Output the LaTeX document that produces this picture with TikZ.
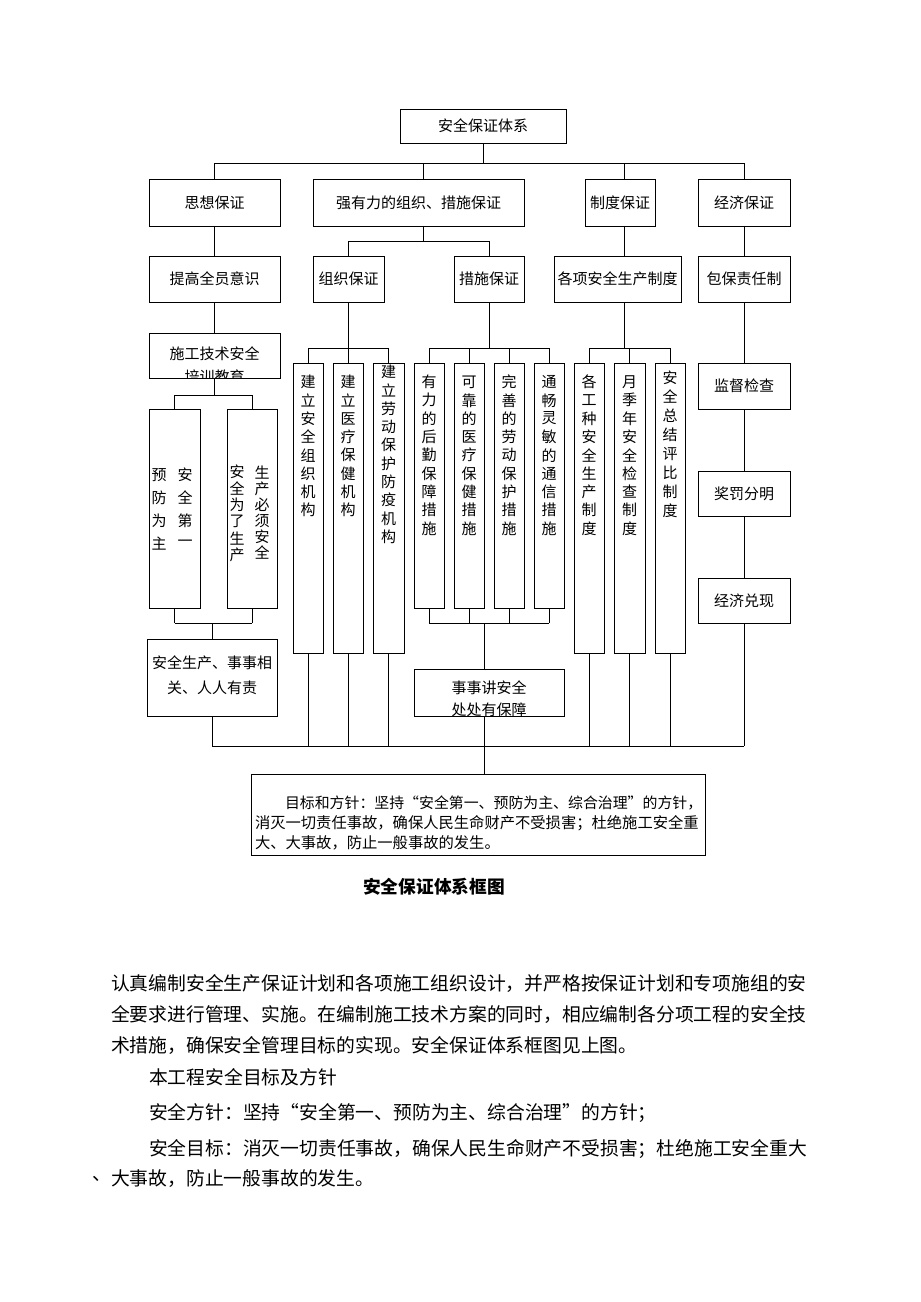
\documentclass[tikz,border=0pt]{standalone}
\usepackage{fontspec}
\setmainfont{Noto Sans CJK SC}
\usetikzlibrary{fit}
\newcommand\chartfont{\fontsize{15bp}{18bp}\selectfont}
\newcommand\goalfont{\fontsize{15.3bp}{18bp}\selectfont}
\newcommand\bodyfont{\fontsize{18.8bp}{22bp}\selectfont}
\newcommand\capfont{\fontsize{17.7bp}{20bp}\selectfont\bfseries}
\newcommand\rbox[6]{\node[box, fit={(#2,#3) (#4,#5)}] (#1) {};
  \node[ct] (#1t) at (#1.center) {#6};}
\newcommand\vcol[5]{\foreach[count=\i] \c in {#5} {\node[ct] (#1-\i) at (#2,{#3+(\i-1)*#4}) {\c};}}
\begin{document}
\begin{tikzpicture}[x=1bp,y=-1bp,
  every node/.style={inner sep=0pt, outer sep=0pt},
  box/.style={draw, line width=0.8bp},
  ln/.style={line width=0.8bp},
  ct/.style={font=\chartfont},
  bt/.style={font=\bodyfont, anchor=west},
  gt/.style={font=\goalfont, anchor=west}]
\fill[white] (0,0) rectangle (920,1302);
\useasboundingbox (0,0) rectangle (920,1302);

% ---------- boxes ----------
\rbox{top}{400}{109}{566}{143}{安全保证体系}
\rbox{sx}{149}{179}{280}{226}{思想保证}
\rbox{qy}{313}{179}{524}{226}{强有力的组织、措施保证}
\rbox{zd}{585}{179}{655}{226}{制度保证}
\rbox{jj}{698}{179}{790}{226}{经济保证}
\rbox{tg}{149}{256}{280}{302}{提高全员意识}
\rbox{zz}{313}{256}{384}{302}{组织保证}
\rbox{cs}{454}{256}{524}{302}{措施保证}
\rbox{gx}{554}{256}{681}{302}{各项安全生产制度}
\rbox{bb}{698}{256}{790}{302}{包保责任制}
\rbox{sg}{149}{333}{280}{378}{}
\rbox{yf}{149}{409}{200}{608}{}
\rbox{sc}{227}{409}{277}{608}{}
\rbox{c1}{293}{363}{323}{653}{}
\rbox{c2}{333}{363}{363}{653}{}
\rbox{c3}{373}{363}{404}{653}{}
\rbox{m1}{414}{363}{444}{608}{}
\rbox{m2}{454}{363}{484}{608}{}
\rbox{m3}{494}{363}{524}{608}{}
\rbox{m4}{534}{363}{564}{608}{}
\rbox{z1}{574}{363}{604}{653}{}
\rbox{z2}{614}{363}{645}{653}{}
\rbox{z3}{655}{363}{685}{653}{}
\rbox{jd}{698}{363}{790}{409}{监督检查}
\rbox{jf}{698}{471}{790}{516}{奖罚分明}
\rbox{jx}{698}{578}{790}{623}{经济兑现}
\rbox{aq}{147}{639}{277}{716}{}
\rbox{ss}{414}{669}{564}{716}{}
\rbox{goal}{251}{774}{705}{855}{}

% ---------- texts in boxes ----------
\begin{scope}
\clip (sg.south west) rectangle (sg.north east);
\node[ct] (sg1) at (214.5,354) {施工技术安全};
\node[ct] (sg2) at (214.5,377) {培训教育};
\end{scope}
\begin{scope}
\clip (ss.south west) rectangle (ss.north east);
\node[ct] (ss1) at (489,688) {事事讲安全};
\node[ct] (ss2) at (489,710) {处处有保障};
\end{scope}
\node[ct] (aq1) at (212,663) {安全生产、事事相};
\node[ct] (aq2) at (212,688) {关、人人有责};

\vcol{ya}{185}{475}{22.7}{安,全,第,一}
\vcol{yb}{159}{475}{22.7}{预,防,为,主}
\vcol{sa}{262}{473}{16}{生,产,必,须,安,全}
\vcol{sb}{237}{472}{16.6}{安,全,为,了,生,产}
\vcol{t1}{308}{382}{18.3}{建,立,安,全,组,织,机,构}
\vcol{t2}{348}{382}{18.3}{建,立,医,疗,保,健,机,构}
\vcol{t3}{388.5}{372}{18.3}{建,立,劳,动,保,护,防,疫,机,构}
\vcol{u1}{429}{382}{18.3}{有,力,的,后,勤,保,障,措,施}
\vcol{u2}{469}{382}{18.3}{可,靠,的,医,疗,保,健,措,施}
\vcol{u3}{509}{382}{18.3}{完,善,的,劳,动,保,护,措,施}
\vcol{u4}{549}{382}{18.3}{通,畅,灵,敏,的,通,信,措,施}
\vcol{w1}{589}{382}{18.3}{各,工,种,安,全,生,产,制,度}
\vcol{w2}{629.5}{382}{18.3}{月,季,年,安,全,检,查,制,度}
\vcol{w3}{670}{378}{19}{安,全,总,结,评,比,制,度}

\node[gt, font=\fontsize{14.9bp}{18bp}\selectfont] (g1) at (285,803) {目标和方针：坚持“安全第一、预防为主、综合治理”的方针，};
\node[gt] (g2) at (255,823) {消灭一切责任事故，确保人民生命财产不受损害；杜绝施工安全重};
\node[gt] (g3) at (255,843) {大、大事故，防止一般事故的发生。};

% ---------- connectors ----------
\coordinate (b1) at (0,163);
\coordinate (b2) at (0,241);
\coordinate (b3) at (0,395);
\coordinate (b4) at (0,348);
\coordinate (b5) at (0,623);
\coordinate (b6) at (0,746);
\coordinate (qx) at (423,0);
\coordinate (zx) at (624,0);
\coordinate (sx2) at (484,0);

\draw[ln] (top) -- (top |- b1);
\draw[ln] (sx |- b1) -- (jj |- b1);
\draw[ln] (sx) -- (sx |- b1);
\draw[ln] (jj) -- (jj |- b1);
\draw[ln] (qy.north -| qx) -- (qx |- b1);
\draw[ln] (zd.north -| zx) -- (zx |- b1);

\draw[ln] (sx) -- (tg);
\draw[ln] (jj) -- (bb);
\draw[ln] (zd.south -| zx) -- (gx.north -| zx);
\draw[ln] (qy.south -| qx) -- (qx |- b2);
\draw[ln] (zz |- b2) -- (cs |- b2);
\draw[ln] (zz |- b2) -- (zz);
\draw[ln] (cs |- b2) -- (cs);

\draw[ln] (tg) -- (sg);
\draw[ln] (sg) -- (sg |- b3);
\draw[ln] (yf |- b3) -- (sc |- b3);
\draw[ln] (yf |- b3) -- (yf);
\draw[ln] (sc |- b3) -- (sc);

\draw[ln] (zz) -- (zz |- b4);
\draw[ln] (c1 |- b4) -- (c3 |- b4);
\foreach \n in {c1,c2,c3} \draw[ln] (\n |- b4) -- (\n);
\draw[ln] (cs) -- (cs |- b4);
\draw[ln] (m1 |- b4) -- (m4 |- b4);
\foreach \n in {m1,m2,m3,m4} \draw[ln] (\n |- b4) -- (\n);
\draw[ln] (gx.south -| zx) -- (zx |- b4);
\draw[ln] (z1 |- b4) -- (z3 |- b4);
\foreach \n in {z1,z2,z3} \draw[ln] (\n |- b4) -- (\n);

\draw[ln] (bb) -- (jd);
\draw[ln] (jd) -- (jf);
\draw[ln] (jf) -- (jx);
\draw[ln] (jx) -- (jx |- b6);

\draw[ln] (yf) -- (yf |- b5);
\draw[ln] (sc) -- (sc |- b5);
\draw[ln] (yf |- b5) -- (sc |- b5);
\draw[ln] (aq) -- (aq |- b5);
\draw[ln] (aq) -- (aq |- b6);
\draw[ln] (aq |- b6) -- (jx |- b6);
\foreach \n in {c1,c2,c3,z1,z2,z3} \draw[ln] (\n) -- (\n |- b6);
\foreach \n in {m1,m2,m3,m4} \draw[ln] (\n) -- (\n |- b5);
\draw[ln] (m1 |- b5) -- (m4 |- b5);
\draw[ln] (sx2 |- b5) -- (ss.north -| sx2);
\draw[ln] (ss.south -| sx2) -- (goal.north -| sx2);

% ---------- caption and body ----------
\node[font=\capfont] (cap) at (434,887) {安全保证体系框图};
\node[bt] (p1) at (111,983) {认真编制安全生产保证计划和各项施工组织设计，并严格按保证计划和专项施组的安};
\node[bt] (p2) at (111,1014) {全要求进行管理、实施。在编制施工技术方案的同时，相应编制各分项工程的安全技};
\node[bt] (p3) at (111,1045) {术措施，确保安全管理目标的实现。安全保证体系框图见上图。};
\node[bt] (p4) at (149,1077) {本工程安全目标及方针};
\node[bt] (p5) at (149,1113) {安全方针：坚持“安全第一、预防为主、综合治理”的方针；};
\node[bt] (p6) at (149,1149) {安全目标：消灭一切责任事故，确保人民生命财产不受损害；杜绝施工安全重大};
\node[bt] (p7a) at (92,1179) {、};
\node[bt] (p7) at (111,1179) {大事故，防止一般事故的发生。};
\end{tikzpicture}
\end{document}
